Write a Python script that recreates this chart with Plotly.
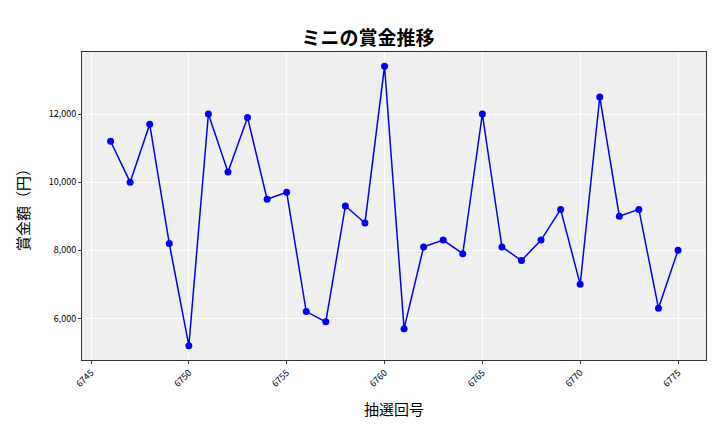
import plotly.graph_objects as go

draws = list(range(6746, 6776))
prizes = [11200, 10000, 11700, 8200, 5200, 12000, 10300, 11900, 9500, 9700,
          6200, 5900, 9300, 8800, 13400, 5700, 8100, 8300, 7900, 12000,
          8100, 7700, 8300, 9200, 7000, 12500, 9000, 9200, 6300, 8000]
xticks = [6745, 6750, 6755, 6760, 6765, 6770, 6775]
yticks = [6000, 8000, 10000, 12000]

fig = go.Figure(go.Scatter(x=draws, y=prizes, mode="lines+markers",
                           line=dict(color="#0000ee", width=1.5),
                           marker=dict(color="#0000ee", size=7)))
font = "Noto Sans CJK JP"
fig.update_layout(
    width=720, height=432, paper_bgcolor="white", plot_bgcolor="#efefef",
    margin=dict(l=74, r=22, t=44, b=80, autoexpand=False),
    title=dict(text="<b>ミニの賞金推移</b>", x=0.5, y=0.945, xanchor="center",
               font=dict(family=font, size=19, color="black")),
    font=dict(family=font, color="black"), showlegend=False,
)
fig.update_xaxes(range=[6744.54, 6776.43], tickvals=xticks, tickangle=-45,
                 tickfont=dict(size=9), gridcolor="white", showline=True,
                 linecolor="#333", mirror=True, ticks="outside", ticklen=3,
                 title=dict(text="抽選回号", font=dict(size=15)))
fig.update_yaxes(range=[4780, 13820], tickvals=yticks, tickformat=",",
                 tickfont=dict(size=9), gridcolor="white", showline=True,
                 linecolor="#333", mirror=True, ticks="outside", ticklen=3,
                 title=dict(text="賞金額（円）", font=dict(size=15)))
fig.write_html("out.html")
